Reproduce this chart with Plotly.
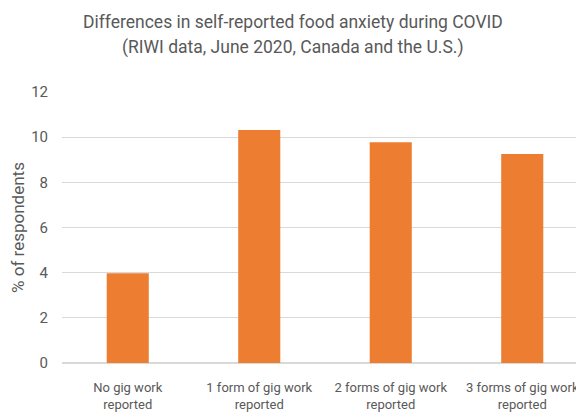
import plotly.graph_objects as go

categories = ["No gig work<br>reported", "1 form of gig work<br>reported",
              "2 forms of gig work<br>reported", "3 forms of gig work<br>reported"]
values = [3.97, 10.32, 9.78, 9.25]
title_lines = ["Differences in self-reported food anxiety during COVID",
               "(RIWI data, June 2020, Canada and the U.S.)"]
y_title = "% of respondents"

FONT = "Roboto, sans-serif"
GRAY = "#595959"
W, H = 584, 418
ML, MR, MT, MB = 54, 4, 84, 63

fig = go.Figure(go.Bar(
    x=list(range(len(categories))), y=values,
    marker=dict(color="#ED7D31", line=dict(width=0)),
    width=0.32,
))

fig.update_layout(
    width=W, height=H,
    margin=dict(l=ML, r=MR, t=MT, b=MB, autoexpand=False),
    paper_bgcolor="white", plot_bgcolor="white",
    font=dict(family=FONT, color=GRAY),
    showlegend=False,
)
for line, ypix in zip(title_lines, [14, 39]):
    fig.add_annotation(
        text=line, xref="paper", yref="paper", x=(285 - ML) / (W - ML - MR), xanchor="center",
        y=(H - ypix - MB) / (H - MT - MB), yanchor="middle", showarrow=False,
        font=dict(size=17.5, color=GRAY, family=FONT),
    )
fig.update_xaxes(
    tickmode="array", tickvals=list(range(len(categories))), ticktext=categories,
    range=[-0.5, 3.5], showgrid=False, showline=False, ticks="",
    tickfont=dict(size=13, color=GRAY), ticklabelstandoff=15, automargin=False,
)
fig.update_yaxes(
    range=[0, 12], dtick=2, showgrid=True, gridcolor="#d9d9d9", gridwidth=1,
    zeroline=True, zerolinecolor="#d9d9d9", zerolinewidth=1.5,
    tickfont=dict(size=15, color=GRAY), ticklabelstandoff=13, automargin=False,
    title=dict(text=y_title, font=dict(size=17, color=GRAY), standoff=3),
)

fig.write_html("out.html")
